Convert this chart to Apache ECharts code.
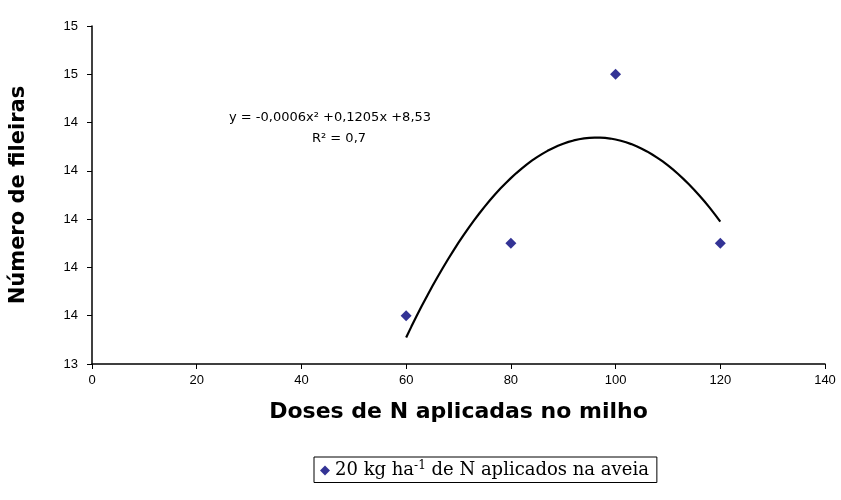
<!DOCTYPE html>
<html>
<head>
<meta charset="utf-8">
<script src="https://cdn.jsdelivr.net/npm/echarts@6/dist/echarts.min.js"></script>
<style>
html,body{margin:0;padding:0;background:#fff;}
#chart{width:841px;height:500px;}
</style>
</head>
<body>
<div id="chart"></div>
<script>
// ---- data ----
var doses = [60, 80, 100, 120];
var fileiras = [13.6, 13.9, 14.6, 13.9];
var seriesName = '20 kg ha-1 de N aplicados na aveia';
var equationText = 'y = -0,0006x\u00B2 +0,1205x +8,53';
var r2Text = 'R\u00B2 = 0,7';
var xTicks = { min: 0, max: 140, interval: 20 };
var yTicks = { min: 13.4, max: 14.8, interval: 0.2 };
var xTitle = 'Doses de N aplicadas no milho';
var yTitle = 'Número de fileiras';

// ---- quadratic least-squares trendline derived from the data ----
function quadFit(xs, ys) {
  var n = xs.length, S = [0,0,0,0,0], T = [0,0,0];
  for (var i = 0; i < n; i++) {
    var x = xs[i], p = 1;
    for (var k = 0; k < 5; k++) { S[k] += p; if (k < 3) T[k] += p * ys[i]; p *= x; }
  }
  var A = [[S[0],S[1],S[2],T[0]],[S[1],S[2],S[3],T[1]],[S[2],S[3],S[4],T[2]]];
  for (var c = 0; c < 3; c++) {
    for (var r = c + 1; r < 3; r++) {
      var f = A[r][c] / A[c][c];
      for (var j = c; j < 4; j++) A[r][j] -= f * A[c][j];
    }
  }
  var sol = [0,0,0];
  for (var r2 = 2; r2 >= 0; r2--) {
    var s = A[r2][3];
    for (var j2 = r2 + 1; j2 < 3; j2++) s -= A[r2][j2] * sol[j2];
    sol[r2] = s / A[r2][r2];
  }
  return sol;
}
var coef = quadFit(doses, fileiras);
var trend = [];
var xLo = Math.min.apply(null, doses), xHi = Math.max.apply(null, doses);
for (var xv = xLo; xv <= xHi; xv += 1) {
  trend.push([xv, coef[0] + coef[1] * xv + coef[2] * xv * xv]);
}

var chart = echarts.init(document.getElementById('chart'), null, { renderer: 'canvas' });
var tickFont = 'Liberation Sans, Arial, sans-serif';
var titleFont = 'DejaVu Sans, Verdana, sans-serif';
var serifFont = 'DejaVu Serif, Liberation Serif, serif';
chart.setOption({
  animation: false,
  backgroundColor: '#fff',
  grid: { left: 92, right: 16, top: 26, bottom: 136 },
  xAxis: {
    type: 'value',
    min: xTicks.min, max: xTicks.max, interval: xTicks.interval,
    name: xTitle,
    nameLocation: 'middle',
    nameGap: 37,
    nameTextStyle: { fontFamily: titleFont, fontWeight: 'bold', fontSize: 22, color: '#000' },
    axisLine: { show: true, lineStyle: { color: '#000', width: 1.5 } },
    axisTick: { show: true, inside: false, length: 5, lineStyle: { color: '#000' } },
    axisLabel: { fontFamily: tickFont, fontSize: 13, color: '#000', margin: 10 },
    splitLine: { show: false }
  },
  yAxis: {
    type: 'value',
    min: yTicks.min, max: yTicks.max, interval: yTicks.interval,
    name: yTitle,
    nameLocation: 'middle',
    nameGap: 63,
    nameRotate: 90,
    nameTextStyle: { fontFamily: titleFont, fontWeight: 'bold', fontSize: 21, color: '#000' },
    axisLine: { show: true, lineStyle: { color: '#000', width: 1.5 } },
    axisTick: { show: true, inside: false, length: 5, lineStyle: { color: '#000' } },
    axisLabel: {
      fontFamily: tickFont, fontSize: 13, color: '#000', margin: 14,
      formatter: function (v) { return String(Math.round(v)); }
    },
    splitLine: { show: false }
  },
  legend: {
    data: [seriesName],
    left: 314, top: 457,
    padding: [3, 8, 3, 6],
    borderColor: '#000', borderWidth: 1,
    itemWidth: 10, itemHeight: 10,
    formatter: function () {
      return '20 kg ha{sup|-1} de N aplicados na aveia';
    },
    textStyle: {
      fontFamily: serifFont, fontSize: 18, color: '#000',
      rich: {
        sup: { fontFamily: serifFont, fontSize: 12, verticalAlign: 'top', padding: [0,0,9,0], color: '#000' }
      }
    }
  },
  graphic: [
    { type: 'text', x: 330, y: 118,
      style: { text: equationText, font: '13px DejaVu Sans, Verdana, sans-serif', fill: '#000', align: 'center', verticalAlign: 'middle' } },
    { type: 'text', x: 339, y: 139,
      style: { text: r2Text, font: '13px DejaVu Sans, Verdana, sans-serif', fill: '#000', align: 'center', verticalAlign: 'middle' } }
  ],
  series: [
    {
      name: seriesName,
      type: 'scatter',
      symbol: 'diamond',
      symbolSize: 11,
      itemStyle: { color: '#00007a' },
      data: doses.map(function (d, i) { return [d, fileiras[i]]; }),
      z: 3
    },
    {
      name: 'trend',
      type: 'line',
      showSymbol: false,
      symbol: 'none',
      smooth: false,
      lineStyle: { color: '#000', width: 2.2 },
      data: trend,
      z: 2
    }
  ]
});
</script>
</body>
</html>
